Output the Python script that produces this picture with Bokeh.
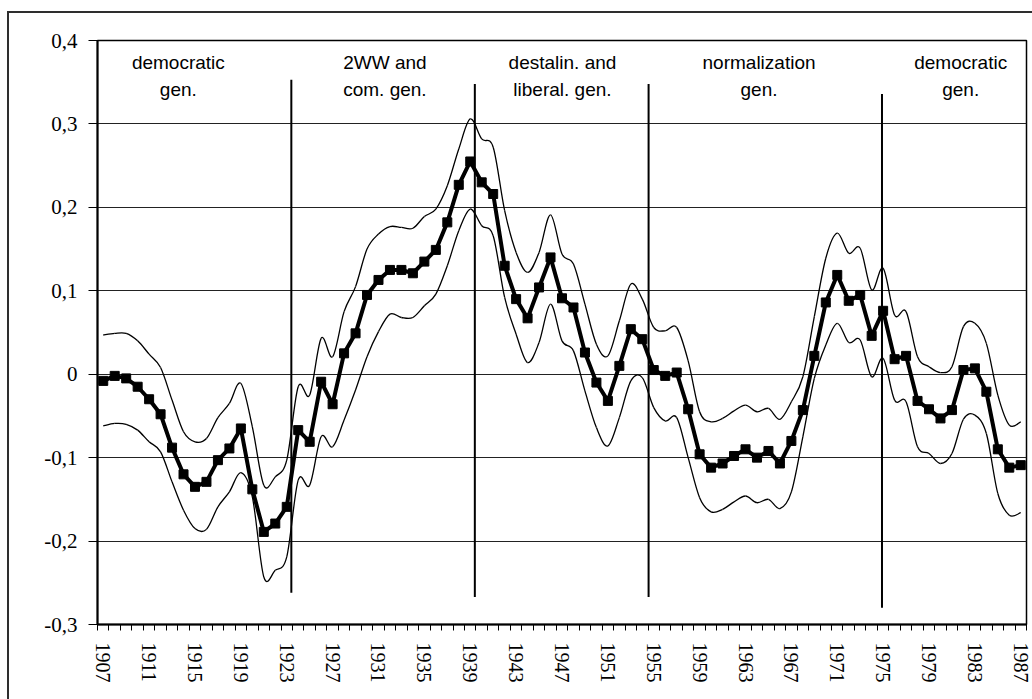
from bokeh.plotting import figure
from bokeh.models import Range1d, FixedTicker
from bokeh.core.properties import value
from bokeh.embed import file_html
from bokeh.resources import INLINE

years = list(range(1907, 1988))

mean = [-0.008, -0.002, -0.005, -0.015, -0.030, -0.048, -0.088, -0.120, -0.135, -0.129,
        -0.103, -0.089, -0.065, -0.138, -0.189, -0.179, -0.159, -0.067, -0.081, -0.009,
        -0.036, 0.025, 0.049, 0.095, 0.113, 0.125, 0.125, 0.121, 0.135, 0.149,
        0.182, 0.227, 0.255, 0.230, 0.216, 0.130, 0.090, 0.067, 0.104, 0.140,
        0.091, 0.080, 0.026, -0.010, -0.032, 0.010, 0.054, 0.042, 0.005, -0.002,
        0.002, -0.042, -0.096, -0.112, -0.107, -0.098, -0.090, -0.100, -0.092, -0.107,
        -0.080, -0.043, 0.022, 0.086, 0.119, 0.088, 0.095, 0.046, 0.076, 0.018,
        0.022, -0.032, -0.042, -0.053, -0.043, 0.005, 0.007, -0.021, -0.090, -0.112,
        -0.109]

upper = [0.047, 0.049, 0.049, 0.040, 0.024, 0.008, -0.031, -0.069, -0.081, -0.077,
         -0.052, -0.035, -0.011, -0.063, -0.133, -0.123, -0.103, -0.015, -0.025, 0.043,
         0.021, 0.075, 0.105, 0.150, 0.168, 0.177, 0.176, 0.175, 0.189, 0.198,
         0.226, 0.270, 0.306, 0.282, 0.272, 0.196, 0.146, 0.122, 0.146, 0.191,
         0.144, 0.132, 0.084, 0.036, 0.022, 0.064, 0.108, 0.090, 0.056, 0.052,
         0.056, 0.016, -0.045, -0.057, -0.053, -0.044, -0.037, -0.045, -0.041, -0.054,
         -0.033, -0.003, 0.069, 0.139, 0.169, 0.145, 0.151, 0.101, 0.127, 0.071,
         0.075, 0.021, 0.009, 0.002, 0.009, 0.057, 0.061, 0.037, -0.025, -0.061,
         -0.057]

lower = [-0.062, -0.059, -0.060, -0.067, -0.081, -0.093, -0.129, -0.163, -0.185, -0.186,
         -0.159, -0.141, -0.118, -0.147, -0.243, -0.235, -0.219, -0.127, -0.133, -0.075,
         -0.087, -0.055, -0.019, 0.021, 0.051, 0.072, 0.068, 0.068, 0.082, 0.096,
         0.130, 0.172, 0.198, 0.178, 0.166, 0.092, 0.048, 0.014, 0.038, 0.084,
         0.040, 0.028, -0.020, -0.064, -0.086, -0.052, -0.008, -0.004, -0.040, -0.056,
         -0.052, -0.100, -0.148, -0.165, -0.162, -0.153, -0.146, -0.154, -0.150, -0.161,
         -0.141, -0.075, -0.005, 0.035, 0.061, 0.038, 0.041, -0.003, 0.019, -0.031,
         -0.033, -0.087, -0.095, -0.107, -0.095, -0.054, -0.049, -0.071, -0.143, -0.169,
         -0.166]

label_years = [1907, 1911, 1915, 1919, 1923, 1927, 1931, 1935, 1939, 1943, 1947,
               1951, 1955, 1959, 1963, 1967, 1971, 1975, 1979, 1983, 1987]

y_ticks = [-0.3, -0.2, -0.1, 0.0, 0.1, 0.2, 0.3, 0.4]
y_tick_labels = ["-0,3", "-0,2", "-0,1", "0", "0,1", "0,2", "0,3", "0,4"]

period_x = [1913.55, 1931.56, 1947.04, 1964.18, 1981.76]
period_line1 = ["democratic", "2WW and", "destalin. and", "normalization", "democratic"]
period_line2 = ["gen.", "com. gen.", "liberal. gen.", "gen.", "gen."]

divider_x = [1923.4, 1939.4, 1954.55, 1974.9]
divider_top = [0.353, 0.348, 0.348, 0.336]
divider_bottom = [-0.262, -0.267, -0.267, -0.280]

p = figure(width=1032, height=699, output_backend="svg", toolbar_location=None,
           x_range=Range1d(1906.5, 1987.5), y_range=Range1d(-0.3, 0.4),
           min_border_left=97, min_border_top=40, min_border_right=6, min_border_bottom=75)
p.background_fill_color = "white"
p.border_fill_color = None
# outer chart-area border (left and top edges), drawn as the element background
p.styles = {
    "background": ("linear-gradient(#2e2e2e, #2e2e2e) 7px 11px / 2px 700px no-repeat, "
                   "linear-gradient(#2e2e2e, #2e2e2e) 7px 11px / 1100px 2px no-repeat, "
                   "#ffffff"),
}
p.outline_line_color = "black"
p.outline_line_width = 1.5

# grid
p.xgrid.visible = False
p.ygrid.ticker = FixedTicker(ticks=y_ticks)
p.ygrid.grid_line_color = "#222222"
p.ygrid.grid_line_width = 1

# y axis
yax = p.yaxis[0]
yax.ticker = FixedTicker(ticks=y_ticks)
yax.major_label_overrides = {t: s for t, s in zip(y_ticks, y_tick_labels)}
yax.major_label_text_font = "Liberation Serif"
yax.major_label_text_font_size = "21px"
yax.major_label_text_color = "black"
yax.major_tick_out = 9
yax.major_tick_in = 0
yax.major_tick_line_color = "black"
yax.minor_tick_line_color = None
yax.axis_line_color = "black"
yax.axis_line_width = 2
yax.major_label_standoff = 11

# x axis
boundaries = [y - 0.5 for y in years] + [years[-1] + 0.5]
xax = p.xaxis[0]
xax.ticker = FixedTicker(ticks=label_years, minor_ticks=boundaries)
xax.major_tick_line_color = None
xax.minor_tick_out = 6
xax.minor_tick_in = 0
xax.minor_tick_line_color = "black"
xax.axis_line_color = "black"
xax.axis_line_width = 2
xax.major_label_orientation = "vertical"
xax.major_label_text_font = "Liberation Serif"
xax.major_label_text_font_size = "20px"
xax.major_label_text_color = "black"
xax.major_label_standoff = 12


def bezier_parts(xs, ys):
    n = len(xs)
    out = {k: [] for k in ("x0", "y0", "x1", "y1", "cx0", "cy0", "cx1", "cy1")}
    for i in range(n - 1):
        xa, ya = xs[max(i - 1, 0)], ys[max(i - 1, 0)]
        xb, yb = xs[i], ys[i]
        xc, yc = xs[i + 1], ys[i + 1]
        xd, yd = xs[min(i + 2, n - 1)], ys[min(i + 2, n - 1)]
        out["x0"].append(xb); out["y0"].append(yb)
        out["x1"].append(xc); out["y1"].append(yc)
        out["cx0"].append(xb + (xc - xa) / 6); out["cy0"].append(yb + (yc - ya) / 6)
        out["cx1"].append(xc - (xd - xb) / 6); out["cy1"].append(yc - (yd - yb) / 6)
    return out


for band in (upper, lower):
    p.bezier(**bezier_parts(years, band), line_color="black", line_width=1.3)

p.segment(x0=divider_x, y0=divider_bottom, x1=divider_x, y1=divider_top,
          line_color="black", line_width=2)

p.line(years, mean, line_color="black", line_width=4)
p.scatter(years, mean, marker="square", size=9, fill_color="black", line_color="black")

p.text(x=period_x, y=[0.374] * len(period_x), text=period_line1,
       text_font=value("Liberation Sans"), text_font_size="19px", text_color="black",
       text_align="center", text_baseline="middle")
p.text(x=period_x, y=[0.341] * len(period_x), text=period_line2,
       text_font=value("Liberation Sans"), text_font_size="19px", text_color="black",
       text_align="center", text_baseline="middle")

open("out.html", "w").write(file_html(p, INLINE))
